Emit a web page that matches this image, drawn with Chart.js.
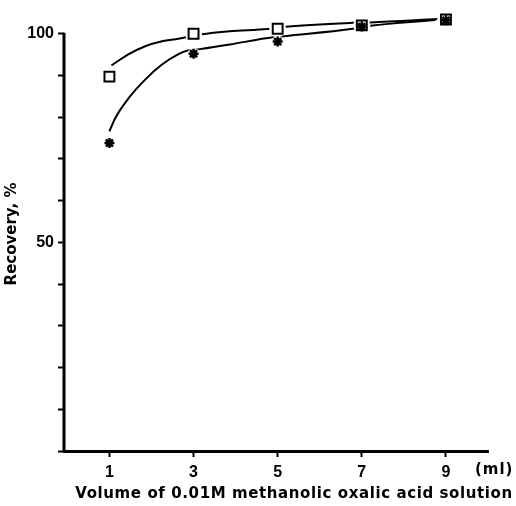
<!DOCTYPE html>
<html>
<head>
<meta charset="utf-8">
<script src="https://cdn.jsdelivr.net/npm/chart.js@4"></script>
<style>
html,body{margin:0;padding:0;background:#fff;}
#c{display:block;}
</style>
</head>
<body>
<canvas id="c" width="516" height="506"></canvas>
<script>
// measured points
const xValues = [1, 3, 5, 7, 9];
const squareSeries = [89.7, 100, 101.2, 102, 103.4];
const starSeries = [73.8, 95.2, 98.1, 101.7, 103.2];
// hand-drawn fitted curves
const squareCurveX = [1.05, 1.46, 1.85, 2.25, 2.64, 3.15, 3.86, 4.76, 5.12, 6.77, 7.2, 8.8];
const squareCurveY = [92.4, 95.1, 97.0, 98.2, 98.8, 99.8, 100.6, 101.1, 101.6, 102.6, 102.7, 103.5];
const starCurveX = [1.0, 1.14, 1.46, 1.85, 2.25, 2.64, 2.84, 3.15, 3.86, 4.72, 5.16, 6.74, 7.2, 8.75];
const starCurveY = [76.6, 79.8, 84.6, 89.0, 92.6, 95.1, 95.9, 96.3, 97.4, 98.9, 99.4, 101.1, 101.9, 103.3];
const xTickValues = [1, 3, 5, 7, 9];
const yTickValues = [0, 10, 20, 30, 40, 50, 60, 70, 80, 90, 100];
const yTickLabels = {100: '100', 50: '50'};
const xTitle = 'Volume of 0.01M methanolic oxalic acid solution';
const yTitle = 'Recovery, %';
const xUnit = '(ml)';

const FONT = 'DejaVu Sans';
const TICKFONT = 'Liberation Sans';
const pts = (xs, ys) => xs.map((x, i) => ({x: x, y: ys[i]}));

const axisPlugin = {
  id: 'yAxisLine',
  beforeDatasetsDraw(chart) {
    const ys = chart.scales.y;
    const left = chart.chartArea.left;
    const ctx = chart.ctx;
    ctx.save();
    ctx.strokeStyle = '#000';
    ctx.lineWidth = 3;
    ctx.beginPath();
    ctx.moveTo(left, ys.getPixelForValue(0) + 1.5);
    ctx.lineTo(left, ys.getPixelForValue(100) - 1);
    ctx.stroke();
    ctx.restore();
  },
  afterDraw(chart) {
    const ctx = chart.ctx;
    const xs = chart.scales.x;
    ctx.save();
    ctx.fillStyle = '#000';
    ctx.textBaseline = 'middle';
    ctx.font = 'bold 15px "' + FONT + '"';
    ctx.textAlign = 'left';
    ctx.letterSpacing = '1px';
    ctx.fillText(xUnit, xs.getPixelForValue(9) + 29, 470);
    ctx.letterSpacing = '0.6px';
    ctx.textAlign = 'center';
    ctx.fillText(xTitle, 294, 494);
    ctx.restore();
  }
};

const common = {clip: false, showLine: false};
new Chart(document.getElementById('c'), {
  type: 'scatter',
  data: {
    datasets: [
      {data: pts(squareCurveX, squareCurveY), showLine: true, cubicInterpolationMode: 'monotone', borderColor: '#000', borderWidth: 2, pointRadius: 0, clip: false, order: 5},
      {data: pts(starCurveX, starCurveY), showLine: true, cubicInterpolationMode: 'monotone', borderColor: '#000', borderWidth: 2, pointRadius: 0, clip: false, order: 5},
      Object.assign({data: pts(xValues, squareSeries), pointStyle: 'circle', pointRadius: 8.5, pointBackgroundColor: '#fff', pointBorderWidth: 0, pointBorderColor: '#fff', order: 4}, common),
      Object.assign({data: pts(xValues, starSeries), pointStyle: 'circle', pointRadius: 6, pointBackgroundColor: '#fff', pointBorderWidth: 0, pointBorderColor: '#fff', order: 4}, common),
      Object.assign({data: pts(xValues, squareSeries), pointStyle: 'rect', pointRadius: 7, pointBackgroundColor: '#fff', pointBorderColor: '#000', pointBorderWidth: 2, order: 2}, common),
      Object.assign({data: pts(xValues, starSeries), pointStyle: 'star', pointRadius: 5, pointBackgroundColor: '#000', pointBorderColor: '#000', pointBorderWidth: 2.5, order: 1}, common)
    ]
  },
  options: {
    responsive: false,
    animation: false,
    events: [],
    layout: {padding: {top: 17, right: 28, left: 0, bottom: 0}},
    plugins: {legend: {display: false}, tooltip: {enabled: false}},
    scales: {
      x: {
        type: 'linear', min: -0.08, max: 10,
        afterBuildTicks: s => { s.ticks = xTickValues.map(v => ({value: v})); },
        afterFit: s => { s.height = 55; },
        ticks: {color: '#000', font: {family: TICKFONT, size: 16, weight: 'bold'}, padding: 6, maxRotation: 0},
        grid: {drawOnChartArea: false, drawTicks: true, tickLength: 6, tickWidth: 2, color: '#000'},
        border: {color: '#000', width: 3}
      },
      y: {
        min: 0, max: 104,
        afterBuildTicks: s => { s.ticks = yTickValues.map(v => ({value: v})); },
        afterFit: s => { s.width = 64; },
        ticks: {color: '#000', font: {family: TICKFONT, size: 16, weight: 'bold'}, padding: 4, autoSkip: false,
          callback: v => (yTickLabels[v] !== undefined ? yTickLabels[v] : '')},
        grid: {drawOnChartArea: false, drawTicks: true, tickLength: 6, tickWidth: 2, color: '#000'},
        border: {display: false},
        title: {display: true, text: yTitle, color: '#000', font: {family: FONT, size: 15, weight: 'bold'}, padding: {top: 3, bottom: 0}}
      }
    }
  },
  plugins: [axisPlugin]
});
</script>
</body>
</html>
